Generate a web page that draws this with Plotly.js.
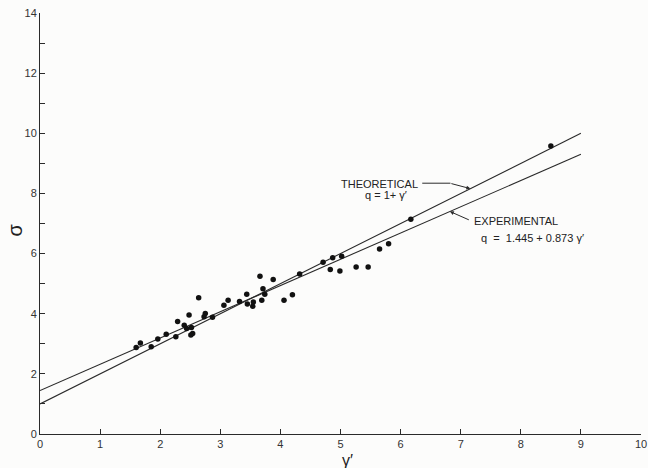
<!DOCTYPE html>
<html>
<head>
<meta charset="utf-8">
<script src="https://cdn.plot.ly/plotly-3.0.1.min.js"></script>
<style>html,body{margin:0;padding:0;background:#fcfcfb;}#chart{width:648px;height:468px;}</style>
</head>
<body>
<div id="chart"></div>
<script>
// Measured points (gamma', sigma)
var gammaPrime = [1.60, 1.67, 1.85, 1.96, 2.10, 2.26, 2.29, 2.40, 2.44, 2.52, 2.54, 2.51, 2.48, 2.64, 2.75, 2.73, 2.87,
                  3.06, 3.13, 3.32, 3.44, 3.45, 3.54, 3.55, 3.69, 3.71, 3.74, 3.66, 3.88, 4.06, 4.20, 4.32,
                  4.71, 4.87, 5.02, 4.83, 4.99, 5.26, 5.46, 5.65, 5.80, 6.17, 8.50];
var sigma      = [2.88, 3.03, 2.90, 3.16, 3.32, 3.23, 3.74, 3.62, 3.51, 3.54, 3.34, 3.29, 3.96, 4.53, 4.01, 3.90, 3.88,
                  4.28, 4.45, 4.41, 4.65, 4.32, 4.25, 4.39, 4.45, 4.83, 4.65, 5.25, 5.14, 4.45, 4.63, 5.32,
                  5.71, 5.86, 5.91, 5.47, 5.42, 5.55, 5.55, 6.15, 6.33, 7.14, 9.58];
// Fitted lines: theoretical q = 1 + gamma', experimental q = 1.445 + 0.873 gamma'
var lineX = [0, 9];
var theoreticalY = [1.0, 10.0];
var experimentalY = [1.445, 9.302];
var xTicks = [0,1,2,3,4,5,6,7,8,9,10];
var yTicks = [0,1,2,3,4,5,6,7,8,9,10,11,12,13,14];
var yTickText = ['0','','2','','4','','6','','8','','10','','12','','14'];

var ink = '#2a2a2a';
var font = "'Liberation Sans', 'DejaVu Sans', sans-serif";

var traces = [
  {x: lineX, y: theoreticalY, mode: 'lines', line: {color: ink, width: 1.1}, hoverinfo: 'skip', showlegend: false},
  {x: lineX, y: experimentalY, mode: 'lines', line: {color: ink, width: 1.1}, hoverinfo: 'skip', showlegend: false},
  {x: gammaPrime, y: sigma, mode: 'markers', marker: {color: '#111', size: 5.5}, showlegend: false}
];

var axisCommon = {
  showgrid: false, zeroline: false, showline: true, linecolor: ink, linewidth: 1,
  ticks: 'inside', ticklen: 5, tickwidth: 1, tickcolor: ink, ticklabeloverflow: 'allow',
  tickfont: {family: font, size: 11, color: '#333'}, fixedrange: true
};

var layout = {
  width: 648, height: 468,
  margin: {l: 40, r: 7, t: 13, b: 34},
  paper_bgcolor: '#fcfcfb', plot_bgcolor: '#fcfcfb',
  xaxis: Object.assign({}, axisCommon, {range: [0, 10], tickmode: 'array', tickvals: xTicks, ticktext: xTicks.map(String)}),
  yaxis: Object.assign({}, axisCommon, {range: [0, 14], tickmode: 'array', tickvals: yTicks, ticktext: yTickText}),
  shapes: [
    {type: 'line', xref: 'x', yref: 'y', x0: 6.36, y0: 8.34, x1: 6.83, y1: 8.34, line: {color: ink, width: 1}}
  ],
  annotations: [
    {xref: 'paper', yref: 'paper', x: -0.042, y: 0.485, xanchor: 'center', yanchor: 'middle', text: 'σ',
     showarrow: false, textangle: -90, font: {family: font, size: 20, color: '#222'}},
    {xref: 'paper', yref: 'paper', x: 0.512, y: -0.062, xanchor: 'center', yanchor: 'middle', text: 'γ′',
     showarrow: false, font: {family: font, size: 16, color: '#222'}},
    {xref: 'x', yref: 'y', x: 6.33, y: 8.31, text: 'THEORETICAL', showarrow: false, xanchor: 'right',
     font: {family: font, size: 11, color: '#222'}},
    {xref: 'x', yref: 'y', x: 5.37, y: 7.94, text: 'q = 1+ γ′', showarrow: false, xanchor: 'left',
     font: {family: font, size: 11, color: '#222'}},
    {xref: 'x', yref: 'y', x: 7.19, y: 7.08, text: 'EXPERIMENTAL', showarrow: false, xanchor: 'left',
     font: {family: font, size: 11, color: '#222'}},
    {xref: 'x', yref: 'y', x: 7.31, y: 6.51, text: 'q  =  1.445 + 0.873 γ′', showarrow: false, xanchor: 'left',
     font: {family: font, size: 11, color: '#222'}},
    // leader arrows
    {xref: 'x', yref: 'y', axref: 'x', ayref: 'y', x: 7.16, y: 8.16, ax: 6.82, ay: 8.34, text: '',
     showarrow: true, arrowhead: 2, arrowsize: 0.8, arrowwidth: 1, arrowcolor: ink},
    {xref: 'x', yref: 'y', axref: 'x', ayref: 'y', x: 6.82, y: 7.40, ax: 7.16, ay: 7.10, text: '',
     showarrow: true, arrowhead: 2, arrowsize: 0.8, arrowwidth: 1, arrowcolor: ink}
  ]
};

Plotly.newPlot('chart', traces, layout, {displayModeBar: false, staticPlot: true});
</script>
</body>
</html>
